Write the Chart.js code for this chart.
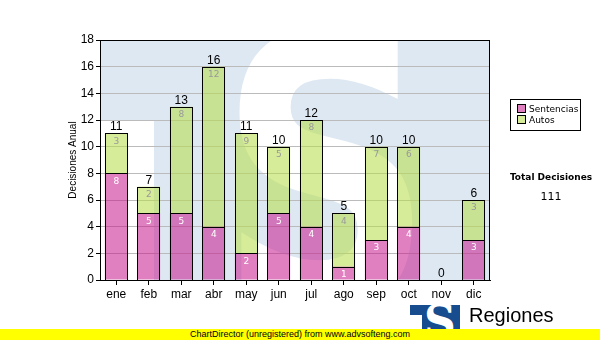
<!DOCTYPE html>
<html>
<head>
<meta charset="utf-8">
<script src="https://cdn.jsdelivr.net/npm/chart.js@4.4.1/dist/chart.umd.min.js"></script>
<style>
    body { margin: 0; background: #fff; }
    #wrap { position: relative; width: 600px; height: 340px; overflow: hidden; }
    #chart { position: absolute; left: 0; top: 0; }
    .legend { position: absolute; left: 510px; top: 99px; width: 71px; height: 32px; border: 1px solid #000;
              box-sizing: border-box; font: 9px "DejaVu Sans", Verdana, sans-serif; color: #000; }
    .legend div { position: absolute; left: 6px; white-space: nowrap; line-height: 10px; }
    .legend span { display: inline-block; width: 7px; height: 7px; border: 1px solid #000; margin-right: 3px; vertical-align: -1px; }
    .total-title { position: absolute; left: 500px; width: 102px; top: 172px; text-align: center;
                   font: bold 9px "DejaVu Sans", Verdana, sans-serif; }
    .total-value { position: absolute; left: 500px; width: 102px; top: 190px; text-align: center;
                   font: 11px "DejaVu Sans", Verdana, sans-serif; }
    .logo { position: absolute; left: 410px; top: 305px; width: 50px; height: 30px; background: #174c8f; overflow: hidden; }
    .logo i { position: absolute; left: 0; top: 10px; width: 12px; height: 30px; background: #fff; }
    .logo b { position: absolute; left: 14px; top: -9px; font: bold 44px "DejaVu Serif", serif; color: #fff; }
    .brand { position: absolute; left: 469px; top: 304px; font: 20px "Liberation Sans", Arial, sans-serif; color: #000; }
    .footer { position: absolute; left: 0; top: 329px; width: 600px; height: 11px; background: #ffff00;
              font: 9px "Liberation Sans", Arial, sans-serif; line-height: 11px; text-align: center; color: #000; }
</style>
</head>
<body>
<div id="wrap">
    <canvas id="chart" width="600" height="340"></canvas>
    <div class="legend">
        <div style="top:4px"><span style="background:#e07fc0"></span>Sentencias</div>
        <div style="top:15px"><span style="background:#d6ec98"></span>Autos</div>
    </div>
    <div class="total-title">Total Decisiones</div>
    <div class="total-value" id="totalValue"></div>
    <div class="logo"><i></i><b>S</b></div>
    <div class="brand">Regiones</div>
    <div class="footer">ChartDirector (unregistered) from www.advsofteng.com</div>
</div>
<script>
const months = ['ene', 'feb', 'mar', 'abr', 'may', 'jun', 'jul', 'ago', 'sep', 'oct', 'nov', 'dic'];
const sentencias = [8, 5, 5, 4, 2, 5, 4, 1, 3, 4, 0, 3];
const autos = [3, 2, 8, 12, 9, 5, 8, 4, 7, 6, 0, 3];

const totals = months.map((m, i) => sentencias[i] + autos[i]);
document.getElementById('totalValue').textContent = totals.reduce((a, b) => a + b, 0);

// fondo del área de trazado con la marca de agua
const watermark = {
    id: 'watermark',
    beforeDraw(chart) {
        const { ctx, chartArea: a } = chart;
        ctx.save();
        ctx.beginPath();
        ctx.rect(a.left, a.top, a.right - a.left, a.bottom - a.top);
        ctx.clip();
        ctx.fillStyle = '#dee8f2';
        ctx.fillRect(a.left, a.top, a.right - a.left, a.bottom - a.top);
        ctx.fillStyle = '#ffffff';
        ctx.fillRect(a.left, a.top + 80, 54, a.bottom - a.top);
        ctx.translate(326, 306);
        ctx.scale(1, 1.25);
        ctx.font = 'bold 300px "DejaVu Sans"';
        ctx.textAlign = 'center';
        ctx.textBaseline = 'alphabetic';
        ctx.fillText('S', 0, 0);
        ctx.restore();
    },
    afterDraw(chart) {
        const { ctx, chartArea: a } = chart;
        ctx.save();
        ctx.strokeStyle = '#000';
        ctx.lineWidth = 1;
        ctx.strokeRect(a.left + 0.5, a.top + 0.5, a.right - a.left - 1, a.bottom - a.top);
        ctx.restore();
    }
};

// bordes nítidos, valores de cada tramo y total encima de cada barra
const barLabels = {
    id: 'barLabels',
    afterDatasetsDraw(chart) {
        const { ctx } = chart;
        const y = chart.scales.y;
        ctx.save();
        ctx.strokeStyle = '#000';
        ctx.lineWidth = 1;
        [0, 1].forEach(d => {
            chart.getDatasetMeta(d).data.forEach(bar => {
                if (Math.abs(bar.base - bar.y) < 0.5) return;
                const l = Math.round(bar.x - bar.width / 2) + 0.5;
                const r = Math.round(bar.x + bar.width / 2) - 0.5;
                const t = Math.round(bar.y) + 0.5;
                const b = Math.round(bar.base) + 0.5;
                ctx.strokeRect(l, t, r - l, b - t);
            });
        });
        ctx.textAlign = 'center';
        ctx.font = '9px "DejaVu Sans"';
        ctx.textBaseline = 'middle';
        [[0, sentencias, '#ffffff'], [1, autos, '#999999']].forEach(([d, vals, color]) => {
            const bars = chart.getDatasetMeta(d).data;
            vals.forEach((v, i) => {
                if (!v) return;
                ctx.fillStyle = color;
                ctx.fillText(v, bars[i].x, bars[i].y + 8);
            });
        });
        ctx.font = '12px "Liberation Sans"';
        ctx.fillStyle = '#000';
        ctx.textBaseline = 'alphabetic';
        const bars = chart.getDatasetMeta(0).data;
        totals.forEach((t, i) => {
            ctx.fillText(t, bars[i].x, y.getPixelForValue(t) - 3);
        });
        ctx.restore();
    }
};

new Chart(document.getElementById('chart'), {
    type: 'bar',
    data: {
        labels: months,
        datasets: [
            {
                label: 'Sentencias',
                data: sentencias,
                backgroundColor: 'rgba(199, 24, 140, 0.55)',
                borderWidth: 0
            },
            {
                label: 'Autos',
                data: autos,
                backgroundColor: 'rgba(184, 222, 78, 0.58)',
                borderWidth: 0
            }
        ]
    },
    options: {
        responsive: false,
        animation: false,
        events: [],
        layout: { padding: { left: 63, top: 40, right: 110, bottom: 0 } },
        datasets: { bar: { categoryPercentage: 1, barPercentage: 0.7 } },
        plugins: { legend: { display: false }, tooltip: { enabled: false } },
        scales: {
            x: {
                stacked: true,
                afterFit(scale) { scale.height = 60; },
                grid: { drawOnChartArea: false, offset: false, tickColor: '#000', tickLength: 5 },
                border: { color: '#000', width: 1 },
                ticks: { color: '#000', font: { family: 'Liberation Sans', size: 12 }, padding: 2 }
            },
            y: {
                stacked: true,
                min: 0,
                max: 18,
                afterFit(scale) { scale.width = 37; },
                grid: { color: '#bbbbbb', tickColor: '#000', tickLength: 4 },
                border: { color: '#000', width: 1 },
                ticks: { stepSize: 2, color: '#000', font: { family: 'Liberation Sans', size: 12 }, padding: 2 },
                title: {
                    display: true,
                    text: 'Decisiones Anual',
                    color: '#000',
                    font: { family: 'Liberation Sans', size: 10 },
                    padding: { top: 4, bottom: 0 }
                }
            }
        }
    },
    plugins: [watermark, barLabels]
});
</script>
</body>
</html>
